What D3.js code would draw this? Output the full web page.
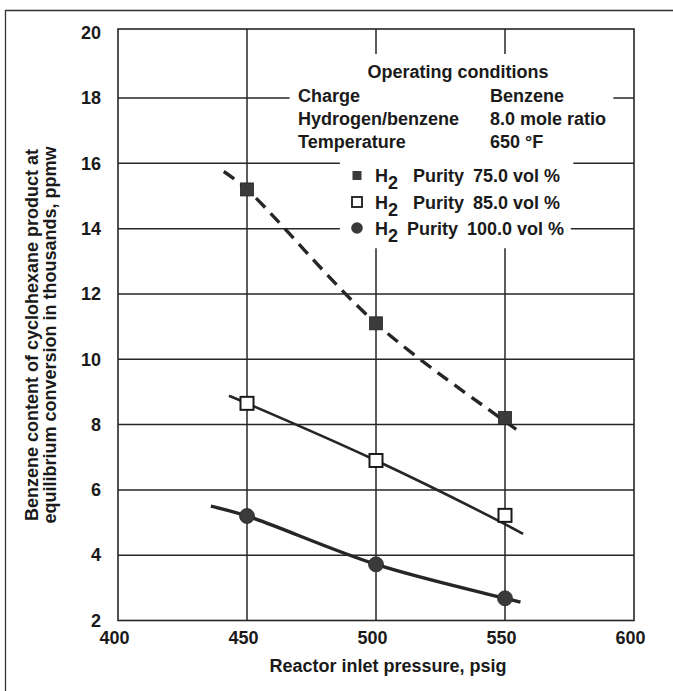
<!DOCTYPE html>
<html><head><meta charset="utf-8">
<script src="https://cdn.jsdelivr.net/npm/d3@7"></script>
<style>
body{margin:0;background:#fff}
svg text{font-family:"Liberation Sans",Arial,Helvetica,sans-serif;font-weight:bold;fill:#1a1a1a;font-size:18px}
</style>
</head><body>
<svg id="c" width="673" height="691"></svg>
<script>
// ---- data ----
const pressureTicks = [400, 450, 500, 550, 600];
const contentTicks = [2, 4, 6, 8, 10, 12, 14, 16, 18, 20];
const pressures = [450, 500, 550];
const purity75 = [15.2, 11.1, 8.2];
const purity85 = [8.65, 6.9, 5.22];
const purity100 = [5.2, 3.72, 2.68];
// fitted curves as drawn [pressure, content]
const curve75 = [[441, 15.75], [450, 15.2], [500, 11.1], [550, 8.1], [555, 7.82]];
const curve85 = [[443, 8.88], [450, 8.65], [500, 6.9], [550, 4.95], [557, 4.65]];
const curve100 = [[436, 5.5], [450, 5.2], [500, 3.72], [550, 2.68], [556, 2.56]];
const seriesNames = ["75.0 vol %", "85.0 vol %", "100.0 vol %"];
const conditionLabels = ["Charge", "Hydrogen/benzene", "Temperature"];
const conditionValues = ["Benzene", "8.0 mole ratio", "650 °F"];
const xTitle = "Reactor inlet pressure, psig";
const yTitle = ["Benzene content of cyclohexane product at", "equilibrium conversion in thousands, ppmw"];

// ---- layout ----
const svg = d3.select("#c");
const x = d3.scaleLinear().domain([400, 600]).range([118, 634]);
const y = d3.scaleLinear().domain([2, 20]).range([620.5, 32.7]);
const plotTop = 29, plotBottom = y(2);
const ink = "#262626";

// outer frame (top and left edges visible)
svg.append("path").attr("d", "M5.5,691 V10.5 H673").attr("fill", "none").attr("stroke", "#333").attr("stroke-width", 1.3);

// gridlines with gaps around the annotation text
const hGaps = {18: [466.5, 592], 16: [486, 576.5], 14: [486, 575.5]};
const g = svg.append("g").attr("stroke", ink).attr("stroke-width", 1.5);
contentTicks.filter(v => v > 2 && v < 20).forEach(v => {
  const gap = hGaps[v];
  const segs = gap ? [[400, gap[0]], [gap[1], 600]] : [[400, 600]];
  segs.forEach(s => g.append("line").attr("x1", x(s[0])).attr("x2", x(s[1])).attr("y1", y(v)).attr("y2", y(v)));
});
const vGaps = {500: [19.35, 13.4], 550: [19.35, 13.4]};
pressureTicks.filter(p => p > 400 && p < 600).forEach(p => {
  const gap = vGaps[p];
  const segs = gap ? [[plotTop, y(gap[0])], [y(gap[1]), plotBottom]] : [[plotTop, plotBottom]];
  segs.forEach(s => g.append("line").attr("x1", x(p)).attr("x2", x(p)).attr("y1", s[0]).attr("y2", s[1]));
});
// plot frame
svg.append("rect").attr("x", x(400)).attr("y", plotTop).attr("width", x(600) - x(400)).attr("height", plotBottom - plotTop)
  .attr("fill", "none").attr("stroke", ink).attr("stroke-width", 1.6);

// axes (labels only, through d3 axes)
const xAxis = svg.append("g").attr("transform", `translate(-4,${plotBottom})`)
  .call(d3.axisBottom(x).tickValues(pressureTicks).tickSize(0).tickPadding(11));
xAxis.select(".domain").remove();
xAxis.selectAll("text").attr("font-size", 18).attr("font-family", null);
const yAxis = svg.append("g").attr("transform", `translate(${x(400)},0)`)
  .call(d3.axisLeft(y).tickValues(contentTicks).tickSize(0).tickPadding(17));
yAxis.select(".domain").remove();
yAxis.selectAll("text").attr("font-size", 18).attr("font-family", null);

svg.append("text").attr("x", 388).attr("y", 672).attr("text-anchor", "middle").text(xTitle);
yTitle.forEach((t, i) => {
  svg.append("text").attr("transform", `translate(${38 + i * 18},335) rotate(-90)`).attr("text-anchor", "middle").text(t);
});

// curves
const line = d3.line().x(d => x(d[0])).y(d => y(d[1])).curve(d3.curveCatmullRom.alpha(0.5));
svg.append("path").attr("d", line(curve75)).attr("fill", "none").attr("stroke", ink)
  .attr("stroke-width", 3.4).attr("stroke-dasharray", "13,8");
svg.append("path").attr("d", line(curve85)).attr("fill", "none").attr("stroke", ink).attr("stroke-width", 2.6);
svg.append("path").attr("d", line(curve100)).attr("fill", "none").attr("stroke", ink).attr("stroke-width", 3.4);

// markers
svg.selectAll(".m75").data(purity75).join("rect").attr("x", (d, i) => x(pressures[i]) - 6.5).attr("y", d => y(d) - 6.5)
  .attr("width", 13).attr("height", 13).attr("fill", "#3b3b3b").attr("stroke", "#222").attr("stroke-width", 0.8);
svg.selectAll(".m85").data(purity85).join("rect").attr("x", (d, i) => x(pressures[i]) - 6.5).attr("y", d => y(d) - 6.5)
  .attr("width", 13).attr("height", 13).attr("fill", "#fff").attr("stroke", "#1a1a1a").attr("stroke-width", 2);
svg.selectAll(".m100").data(purity100).join("circle").attr("cx", (d, i) => x(pressures[i])).attr("cy", d => y(d))
  .attr("r", 7.5).attr("fill", "#3a3a3a").attr("stroke", "#2a2a2a").attr("stroke-width", 0.8);

// annotation block
svg.append("text").attr("x", 458).attr("y", 77.5).attr("text-anchor", "middle").text("Operating conditions");
conditionLabels.forEach((t, i) => {
  svg.append("text").attr("x", 298).attr("y", 102 + i * 23).text(t);
  svg.append("text").attr("x", 490).attr("y", 102 + i * 23).text(conditionValues[i]);
});
const rowY = [182, 208.5, 235];
const mx = 357;
svg.append("rect").attr("x", mx - 4.5).attr("y", rowY[0] - 11).attr("width", 9).attr("height", 9).attr("fill", "#3b3b3b");
svg.append("rect").attr("x", mx - 5).attr("y", rowY[1] - 11.5).attr("width", 10).attr("height", 10).attr("fill", "#fff").attr("stroke", "#1a1a1a").attr("stroke-width", 1.8);
svg.append("circle").attr("cx", mx).attr("cy", rowY[2] - 7).attr("r", 5.8).attr("fill", "#3a3a3a");
seriesNames.forEach((s, i) => {
  const t = svg.append("text").attr("x", 375).attr("y", rowY[i]);
  t.append("tspan").text("H");
  t.append("tspan").attr("dy", 7).text("2");
  t.append("tspan").attr("dy", -7).attr("x", i === 2 ? 407 : 413).text("Purity");
  svg.append("text").attr("x", i === 2 ? 467 : 473).attr("y", rowY[i]).text(s);
});
</script>
</body></html>
